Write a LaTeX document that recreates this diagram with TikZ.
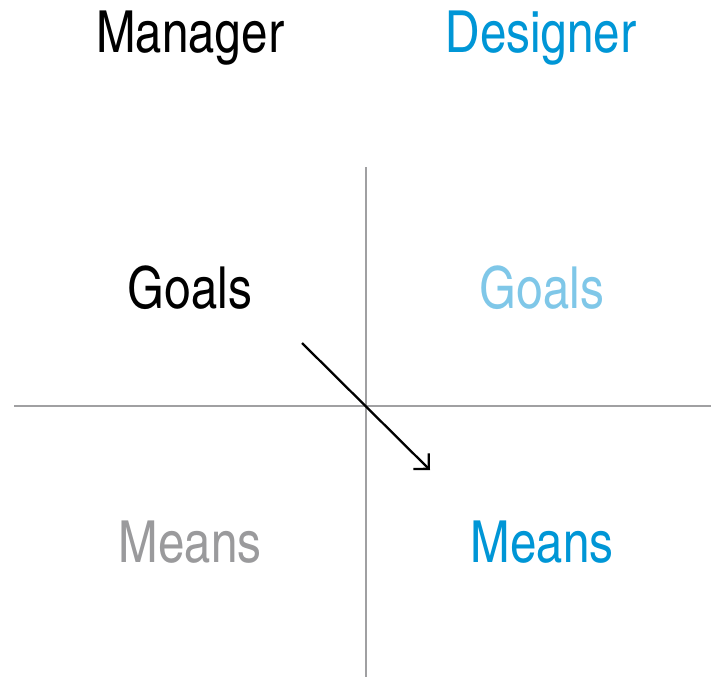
\documentclass[tikz,border=0pt]{standalone}
\usepackage{fontspec}
\setmainfont{TeX Gyre Heros Cn}
\usepackage{xcolor}
\usetikzlibrary{arrows.meta}

\definecolor{designblue}{HTML}{0096D6}
\definecolor{lightblue}{HTML}{7FC7E8}
\definecolor{meansgray}{HTML}{9A9A9C}
\definecolor{axisgray}{HTML}{A0A0A2}

\begin{document}
\begin{tikzpicture}[x=0.02cm, y=-0.02cm, every node/.style={font=\fontsize{33}{38}\selectfont, anchor=base, inner sep=0pt}]
  \useasboundingbox (0,0) rectangle (711,677);
  % column heads
  \node (manager) at (190,52) {Manager};
  \node[text=designblue] (designer) at (541,52) {Designer};
  % quadrant labels
  \node (goalsM) at (190,308) {Goals};
  \node[text=lightblue] (goalsD) at (542,308) {Goals};
  \node[text=meansgray] (meansM) at (190,562) {Means};
  \node[text=designblue] (meansD) at (542,562) {Means};
  % axes
  \coordinate (vtop) at (366,167);
  \coordinate (vbot) at (366,677);
  \coordinate (hleft) at (14,406);
  \coordinate (hright) at (711,406);
  \draw[axisgray, line width=1.5pt] (vtop) -- (vbot);
  \draw[axisgray, line width=1.5pt] (hleft) -- (hright);
  % shift
  \coordinate (from) at (302,343);
  \coordinate (to) at (430,470);
  \draw[line width=1.3pt, -{Straight Barb[length=2.2mm, width=4.4mm]}] (from) -- (to);
\end{tikzpicture}
\end{document}
